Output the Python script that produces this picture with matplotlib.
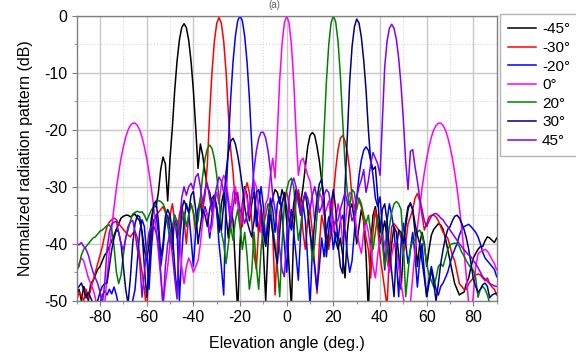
import matplotlib
matplotlib.use("Agg")
import matplotlib.pyplot as plt
from matplotlib.ticker import MultipleLocator

plt.rcParams['font.family'] = ['Liberation Sans', 'DejaVu Sans']
plt.rcParams['axes.unicode_minus'] = False

angles = list(range(-90, 91))

labels = ['-45°', '-30°', '-20°', '0°', '20°', '30°', '45°']
colors = ['#000000', '#ff0000', '#0000ff', '#ff00ff', '#008000', '#000080', '#8000ff']

s_m45 = [
    -49, -48, -50, -47.5, -48.5, -50, -47, -46.5, -45.5, -44.5,
    -44, -43, -42, -41.5, -40.5, -39.5, -38.5, -37.5, -36.5, -35.5,
    -35.2, -35, -35, -35.3, -35, -34.8, -35.5, -36, -38, -41,
    -43, -40, -35.5, -33.5, -33.5, -31, -27, -24.8, -26, -32.5,
    -25, -19.6, -13.1, -8.0, -4.3, -2.1, -1.4, -2.1, -4.3, -8.0,
    -13.1, -19.6, -26.8, -22.5, -24.5, -27.5, -30, -31, -33.5, -31.5,
    -34, -38, -33, -31, -35, -39, -33.5, -36, -44, -52,
    -40, -33, -30, -31.5, -36, -33, -31, -34.5, -38, -35,
    -41, -50, -40, -34, -32, -30.5, -31, -33, -30.5, -32,
    -36, -44, -51, -38, -32, -31, -33, -30, -26.5, -23,
    -21, -20.5, -21, -23, -25.5, -29, -33, -38, -40.5, -38,
    -36, -39.5, -41, -39, -42, -46, -38, -34, -33, -36,
    -40, -37, -34, -36, -42, -52, -40, -35, -33.5, -36,
    -40, -38, -36, -39, -45, -40, -37, -38, -42, -48,
    -41, -36, -33.5, -33, -34, -38, -44, -40, -38, -40,
    -44, -41, -38.5, -37.5, -37, -36.5, -36.7, -37.5, -39, -41,
    -43, -45, -47, -48, -49, -48.7, -48.5, -47, -46, -44,
    -42.5, -41.7, -41, -40.5, -40.5, -39.5, -38.8, -39, -39.4, -39.8,
    -39,
]

s_m30 = [
    -50, -48.5, -49, -50, -48, -49.5, -48, -46.5, -45, -43.5,
    -42, -40.5, -38.5, -37, -36.2, -35.8, -35.5, -35.8, -36.5, -37,
    -37.5, -38, -38.5, -38.8, -38.2, -37.8, -39, -42, -45, -48,
    -52, -44, -39, -36, -35, -34.5, -34, -33.5, -34.5, -37,
    -35, -33, -36, -39, -35, -33, -36, -40, -35, -33,
    -34.5, -38, -34, -32, -34, -31.5, -26, -17.1, -9.75, -4.5,
    -1.35, -0.3, -1.35, -4.5, -9.75, -17.1, -23.5, -27.5, -33, -31,
    -35, -37, -31, -29.3, -31, -36, -42, -44.5, -37, -34,
    -36, -40, -35, -33, -38, -49, -40, -34.5, -33, -31.5,
    -31, -33, -37, -35, -32, -30.5, -33, -38, -41, -36,
    -34, -38, -44, -48.7, -40, -35, -37, -40, -41, -37,
    -31.5, -27, -23.5, -21.5, -21, -22, -24, -27, -32, -34,
    -31.5, -32.5, -33.5, -36, -39, -41, -46, -38, -34, -37,
    -42, -45, -48, -51, -42, -37, -36.5, -37, -37.6, -39,
    -41.5, -40, -36.5, -35.3, -34, -32, -31.2, -32.5, -35, -37.6,
    -36.5, -35.3, -35, -35, -35.3, -36, -37, -38, -38.5, -39,
    -40.5, -42, -43, -45, -47, -47.5, -48, -48, -47, -46.5,
    -46, -45.5, -45.3, -45.5, -46, -46.5, -46, -47, -47.6, -48,
    -49,
]

s_m20 = [
    -55, -55, -55, -55, -53, -55, -55, -55, -55, -52,
    -50.5, -49, -48.3, -49, -48, -48.8, -47.6, -49, -51, -55,
    -55, -55, -55, -53, -50, -48, -43, -38, -35.8, -37,
    -42, -48, -41, -36, -35, -38, -44, -41, -36.5, -35,
    -37.5, -41, -35, -37, -50, -42, -36, -33, -34.5, -39,
    -44, -38, -34, -33, -35.5, -33.5, -35, -39, -35, -32,
    -34, -40, -44, -49, -32, -22.5, -14.4, -8.1, -3.6, -0.9,
    0, -0.9, -3.6, -8.1, -14.4, -22.5, -30.5, -37, -33, -30,
    -33.5, -40, -36, -32, -34, -38, -33, -31.8, -35, -40,
    -45, -37, -34, -38, -42, -46.4, -38, -33, -36, -43,
    -51, -41, -44, -48, -44, -39, -42.3, -38, -35.3, -37,
    -41, -38, -39.4, -36, -35, -37.6, -42, -45, -43, -38,
    -32, -28.1, -25.3, -23.6, -23, -23.6, -25.3, -28.1, -32, -33.5,
    -31.8, -37, -44.6, -36, -33, -35, -37.6, -43, -49.3, -40,
    -36.4, -40, -43.5, -41, -38, -42, -47.6, -43, -40, -45,
    -49.3, -46, -44, -46, -48, -49, -47.5, -46.9, -46, -45,
    -43.5, -42, -41, -40, -38.5, -37.5, -37, -36.8, -36.6, -37,
    -37.5, -38, -38.8, -40, -41.5, -42.5, -43, -43.5, -44, -44.5,
    -45.8,
]

s_0 = [
    -45, -43.5, -42.5, -43, -44.5, -46, -47, -48, -49.5, -52,
    -55, -53, -50.6, -45.8, -41.4, -37.3, -33.6, -30.3, -27.5, -25,
    -23, -21.3, -20.05, -19.25, -18.85, -18.85, -19.25, -20.05, -21.3, -23,
    -25, -27.5, -30.3, -33.6, -37.3, -41.4, -45.8, -50.6, -47, -44,
    -40, -37, -35.5, -36, -38, -44, -47, -44, -42.5, -43.5,
    -45, -44, -43, -40, -36, -34, -35, -38, -37, -33,
    -31, -33, -29.5, -28, -29, -32, -35, -31, -30, -33,
    -37, -34, -30.5, -32, -35, -31, -29, -30, -34, -38,
    -36, -33, -32, -28, -25, -28.5, -20.5, -11.3, -5, -1.25,
    0, -1.25, -5, -11.3, -20.5, -28, -25.5, -25, -26.5, -28,
    -29, -32, -36, -33, -31, -32, -35, -34, -32.5, -35,
    -38, -36, -33, -35, -40, -37, -33, -31, -31.5, -34,
    -37.6, -40, -41.7, -38, -36, -38, -41, -44, -46, -42,
    -39, -38.5, -40, -43, -45, -42, -40, -41, -44, -47,
    -49.5, -52, -53, -50.6, -45.8, -41.4, -37.3, -33.6, -30.3, -27.5,
    -25, -23, -21.3, -20.05, -19.25, -18.85, -18.85, -19.25, -20.05, -21.3,
    -23, -25, -27.5, -30.3, -33.6, -37.3, -41.4, -45.8, -50.6, -53,
    -49, -44, -41.8, -41.4, -41.2, -41, -41.3, -42, -42.8, -43.5,
    -44.6,
]

s_20 = [
    -44.5, -44, -42, -41, -40.5, -40, -39.5, -39, -38.8, -38.3,
    -37.8, -37.6, -37.2, -36.8, -36.7, -37.5, -40.5, -45, -47, -45.5,
    -42, -39, -37.6, -36, -34.8, -34.5, -34.3, -34.5, -34.4, -35,
    -36, -35, -34.1, -33.5, -32.8, -32.4, -32.6, -33, -34, -36.5,
    -40, -37, -35, -36, -39, -36, -34.5, -37, -35, -33,
    -34.5, -37, -36, -32, -28, -25.1, -23.3, -22.7, -23.3, -25.1,
    -28, -32, -38, -40, -43.5, -40, -37, -39.4, -36, -34,
    -37, -41, -38, -42, -48, -45, -38, -44, -48, -41,
    -37, -35, -33, -34, -37, -40, -44, -49.3, -40, -33,
    -30.5, -29, -28.5, -30, -35, -39.4, -37, -33, -31, -34,
    -38, -43, -40, -35, -31, -30, -20.5, -11.7, -5.2, -1.3,
    0, -1.1, -4.5, -10.5, -18.5, -26, -31, -33.5, -30.5, -31,
    -34, -32, -33, -35, -36.4, -35, -38, -41, -38, -35,
    -36, -40, -44, -41, -37, -34.5, -33, -32.6, -33, -34,
    -40, -49.3, -45, -41, -39.5, -39.4, -38, -37.6, -38.5, -40.5,
    -43.5, -45.5, -46.5, -47.6, -46, -44, -43.5, -44, -42.5, -41,
    -40.2, -40, -39.9, -40, -40.5, -41.5, -42.2, -43, -43.7, -44.3,
    -44.7, -46, -49.4, -48, -47.5, -48, -49, -50.5, -51, -52,
    -52,
]

s_30 = [
    -48, -47.5, -46.9, -48, -49.5, -48.5, -49.5, -50.5, -52, -50,
    -48.5, -47.5, -47, -46.9, -44, -41.1, -39, -37.5, -38, -40,
    -44, -48, -50.5, -46, -40, -36.5, -35, -35.3, -38, -44,
    -49.4, -44, -37, -33, -32.5, -36, -42.2, -40, -35.3, -34,
    -35, -38, -44, -49, -40, -34, -32.4, -33.5, -34.5, -31.5,
    -30.8, -34, -40, -37, -34, -35, -37, -34, -32, -31.5,
    -33.5, -36, -37.6, -33, -27.5, -24, -22, -21.5, -22.5, -24.5,
    -27, -30, -33.5, -36, -37.5, -38.8, -36, -31, -30.5, -33.5,
    -38, -40.5, -37, -35, -38, -41, -43.5, -38, -33, -31,
    -34, -36, -37.6, -33, -30.5, -32, -35, -32.5, -31, -34,
    -38, -41, -36, -32, -29.5, -28.7, -32, -42.3, -38, -33,
    -30.5, -34, -40, -44, -45.2, -30, -21, -11.5, -5.5, -2,
    -0.6, -1.3, -3.8, -7.8, -13, -20, -25.5, -27, -26.5, -31.8,
    -38, -34, -33, -36, -41, -45, -49.3, -41, -37.6, -38,
    -40, -37, -34, -32.8, -34, -36.5, -38.5, -40, -43, -46,
    -49.3, -47, -44.5, -47, -50, -47, -43.5, -41.1, -39, -37.5,
    -37, -36, -35.2, -35, -35.5, -36.4, -37.5, -39, -41, -43.5,
    -46.2, -47.5, -48.5, -48, -47.2, -46.9, -47.5, -49.5, -49, -48.8,
    -48.7,
]

s_45 = [
    -40, -40.2, -39.8, -40.5, -41, -42, -43.6, -45, -46, -47,
    -48.5, -50.5, -47, -41, -38, -36.6, -36.2, -36.1, -38, -40,
    -41.1, -39, -37, -36.2, -35.9, -38, -41, -43, -49.4, -45,
    -41.1, -38, -37, -36.9, -38, -40, -45, -51, -44, -40,
    -38, -42, -46, -49.7, -38, -32, -30, -31.5, -30, -29.4,
    -30.5, -28.3, -27.7, -30, -33, -30.5, -29.5, -32, -34.5, -32,
    -30, -28.3, -29, -31, -30, -33, -37, -33.5, -31, -31.8,
    -34, -35, -36.4, -35, -33.5, -31.5, -27, -23.7, -21.5, -20.45,
    -20.45, -21.5, -23.7, -27, -31.5, -34, -37.6, -41, -44.6, -45.8,
    -39, -32, -29.5, -28.5, -30, -33, -35, -32.5, -31, -32,
    -34, -31.5, -30, -32, -34.5, -33.5, -31.5, -30.5, -31, -33.5,
    -36, -36.5, -35.8, -34, -32.5, -31, -32.9, -33.5, -36, -35,
    -32, -30, -28.8, -27, -31, -29, -26, -24, -25, -26,
    -28, -18.5, -9, -4.5, -2.2, -1.5, -2.2, -4.2, -7.5, -12.2,
    -18.3, -25.6, -30.5, -23.8, -23.5, -26.5, -29, -32, -34, -36,
    -37, -36, -35.2, -34.8, -34.7, -35, -35.5, -35.8, -36.5, -37,
    -37.6, -38.2, -38.8, -39.4, -40, -40.5, -41.1, -41.5, -42, -42.3,
    -43, -43.5, -44.2, -45, -45.8, -46.2, -46.6, -47, -47.2, -47.4,
    -47.5,
]

series = [s_m45, s_m30, s_m20, s_0, s_20, s_30, s_45]

FS = 11.5
LFS = 11

fig = plt.figure(figsize=(5.76, 3.52), dpi=100)
ax = fig.add_axes([76.7 / 576, 1 - 300.7 / 352, 420 / 576, 285 / 352])

for vals, lab, col in zip(series, labels, colors):
    ax.plot(angles[:len(vals)], vals, color=col, lw=1.1, label=lab)

ax.set_xlim(-90, 90)
ax.set_ylim(-50, 0)
ax.xaxis.set_major_locator(MultipleLocator(20))
ax.xaxis.set_minor_locator(MultipleLocator(10))
ax.yaxis.set_major_locator(MultipleLocator(10))
ax.yaxis.set_minor_locator(MultipleLocator(5))
ax.grid(which='major', color='#c8c8c8', lw=1.0, ls='-')
ax.grid(which='minor', color='#d8d8d8', lw=0.8, ls=':')
ax.set_axisbelow(True)
for sp in ax.spines.values():
    sp.set_color('#808080')
    sp.set_linewidth(1.0)
ax.tick_params(which='both', direction='out', color='#808080', labelsize=FS, pad=3)
ax.tick_params(which='major', length=3.5)
ax.tick_params(which='minor', length=2)

ax.set_xlabel('Elevation angle (deg.)', fontsize=FS, labelpad=8)
ax.set_ylabel('Normalized radiation pattern (dB)', fontsize=FS, labelpad=8)

leg = ax.legend(loc='upper left', bbox_to_anchor=(1.008, 1.006), borderaxespad=0,
                fontsize=LFS, handlelength=1.8, handletextpad=0.4,
                labelspacing=0.30, fancybox=False, frameon=True,
                borderpad=0.55)
leg.get_frame().set_edgecolor('#a0a0a0')
leg.get_frame().set_linewidth(1.0)

fig.text(0.476, 0.999, '(a)', ha='center', va='top', fontsize=7, color='#606060')

fig.savefig('out.png', dpi=100)
